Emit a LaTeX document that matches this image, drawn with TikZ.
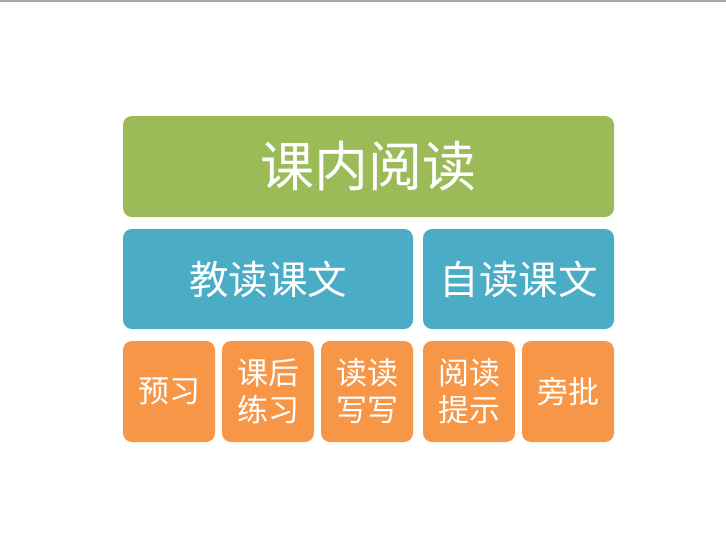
\documentclass[tikz,border=0pt]{standalone}
\usepackage{fontspec}
\newfontfamily\cjk{Noto Sans CJK SC}
\definecolor{kgreen}{HTML}{9BBB59}
\definecolor{kblue}{HTML}{4BACC6}
\definecolor{korange}{HTML}{F79646}
\definecolor{kgray}{HTML}{A6A8AB}
\begin{document}
\begin{tikzpicture}[x=1pt,y=-1pt,
    box/.style={rectangle,rounded corners=9pt,anchor=north west,inner sep=0pt,
      outer sep=0pt,text=white,align=center},
    top/.style={box,fill=kgreen,minimum width=491pt,minimum height=101pt,
      font=\cjk\fontsize{54}{60}\selectfont},
    mid/.style={box,fill=kblue,minimum height=100pt,
      font=\cjk\fontsize{39.5}{44}\selectfont},
    leaf/.style={box,fill=korange,minimum width=92pt,minimum height=101pt,
      font=\cjk\fontsize{31}{37}\selectfont}]
  \useasboundingbox (0,0) rectangle (726,557);
  \draw[kgray,line width=2pt] (0,1) -- (726,1);
  \draw
    (123,116) node[top] (kenei){课内阅读}
    (123,229) node[mid,minimum width=290pt] (jiaodu){教读课文}
    (423,229) node[mid,minimum width=191pt] (zidu){自读课文}
    (123,341) node[leaf] (yuxi){预习}
    (222,341) node[leaf] (kehou){课后\\练习}
    (321,341) node[leaf] (dudu){读读\\写写}
    (423,341) node[leaf] (tishi){阅读\\提示}
    (522,341) node[leaf] (pangpi){旁批};
\end{tikzpicture}
\end{document}
